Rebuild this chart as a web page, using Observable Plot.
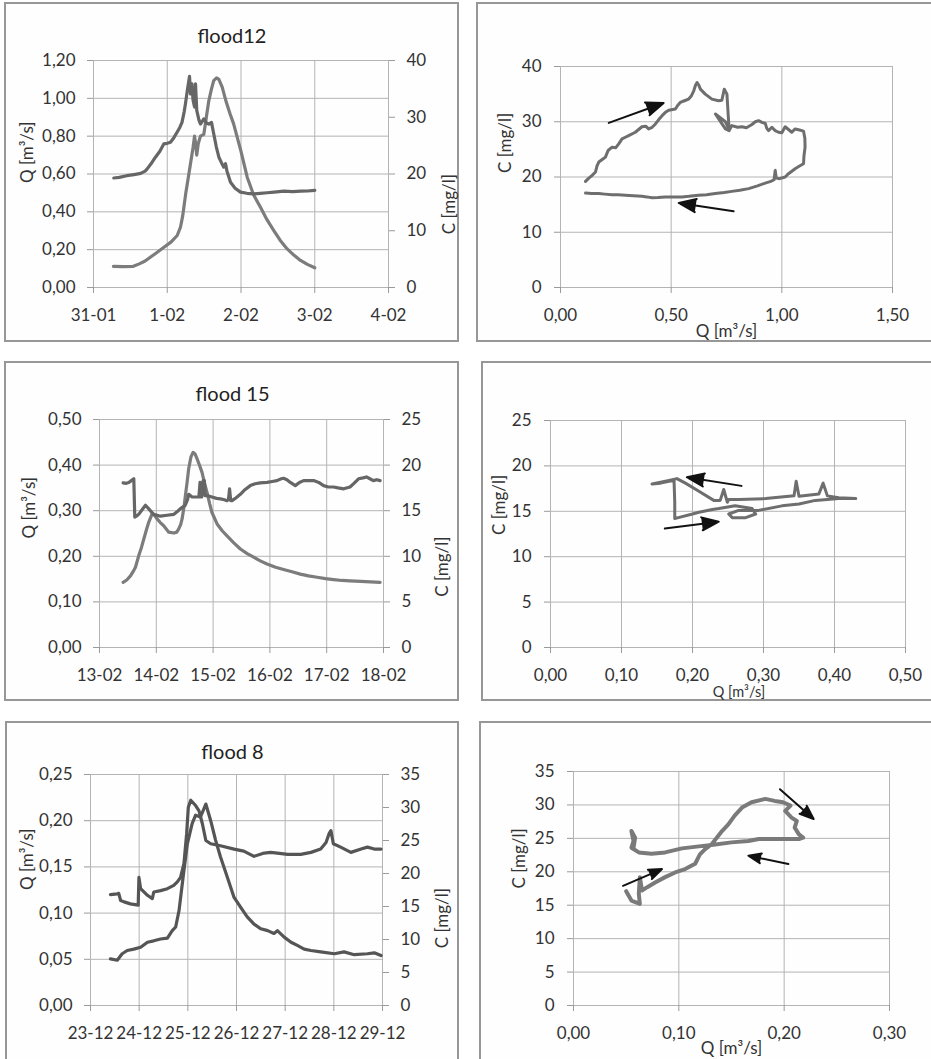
<!DOCTYPE html>
<html><head><meta charset="utf-8">
<script src="https://cdn.jsdelivr.net/npm/d3@7"></script>
<script src="https://cdn.jsdelivr.net/npm/@observablehq/plot@0.6"></script>
<style>
body{margin:0;background:#fff;}
#root{position:relative;width:931px;height:1059px;overflow:hidden;}
.frame{position:absolute;border:2px solid #979797;box-sizing:border-box;background:#fefefe;}
.cell{position:absolute;}
</style></head><body><div id="root"></div>
<script>
// ---------- flood 12 ----------
const f12Dates = ["31-01","1-02","2-02","3-02","4-02"];
const f12QTicks = [0,0.2,0.4,0.6,0.8,1.0,1.2];
const f12CTicks = [0,10,20,30,40];
const f12tQ = [0.27,0.40,0.54,0.62,0.70,0.77,0.86,0.955,1.05,1.135,1.18,1.21,1.25,1.285,1.315,1.35,1.37,1.385,1.40,1.42,1.45,1.496,1.53,1.564,1.60,1.63,1.668,1.70,1.745,1.80,1.85,1.90,2.0,2.084,2.17,2.264,2.35,2.445,2.53,2.626,2.72,2.807,2.90,3.0];
const f12Q  = [0.112,0.11,0.112,0.125,0.14,0.16,0.185,0.213,0.24,0.275,0.32,0.38,0.495,0.58,0.654,0.74,0.80,0.76,0.70,0.76,0.80,0.81,0.90,0.988,1.05,1.094,1.108,1.10,1.059,0.98,0.92,0.865,0.72,0.583,0.49,0.424,0.36,0.301,0.25,0.204,0.17,0.143,0.122,0.104];
const f12tC = [0.275,0.35,0.45,0.55,0.64,0.70,0.728,0.78,0.84,0.90,0.953,1.0,1.044,1.09,1.135,1.17,1.2,1.23,1.247,1.275,1.302,1.315,1.335,1.35,1.37,1.383,1.40,1.43,1.45,1.496,1.53,1.564,1.6,1.63,1.665,1.7,1.735,1.767,1.79,1.81,1.858,1.92,1.993,2.08,2.174,2.26,2.355,2.45,2.58,2.7,2.81,2.9,3.0];
const f12C  = [19.3,19.4,19.7,19.9,20.1,20.5,20.9,21.8,22.96,24.0,25.3,25.4,25.6,26.4,27.4,28.2,29.1,31.0,32.4,35.0,37.2,34.1,35.9,33.0,31.8,35.9,31.2,29.5,28.8,29.7,29.0,28.8,29.1,27.1,24.8,22.96,22.0,21.2,21.8,20.5,18.55,17.5,16.8,16.6,16.5,16.6,16.7,16.8,16.97,16.9,16.97,17.0,17.1];
// flood 12 hysteresis (C vs Q)
const f12LoopTicksQ = [0,0.5,1.0,1.5];
const f12LoopTicksC = [0,10,20,30,40];
const f12LoopQ = [0.113,0.128,0.143,0.158,0.165,0.173,0.19,0.203,0.215,0.233,0.25,0.263,0.278,0.293,0.308,0.338,0.368,0.385,0.398,0.414,0.429,0.444,0.459,0.474,0.489,0.519,0.53,0.541,0.56,0.579,0.59,0.602,0.61,0.617,0.625,0.632,0.654,0.684,0.714,0.729,0.74,0.752,0.758,0.762,0.745,0.70,0.72,0.745,0.762,0.774,0.80,0.82,0.84,0.865,0.88,0.895,0.91,0.925,0.932,0.94,0.955,0.97,0.985,1.0,1.015,1.03,1.045,1.06,1.08,1.098,1.104,1.105,1.10,1.098,1.08,1.06,1.03,1.015,0.99,0.975,0.97,0.965,0.95,0.925,0.89,0.85,0.81,0.774,0.74,0.699,0.66,0.624,0.58,0.549,0.5,0.474,0.44,0.414,0.39,0.368,0.33,0.293,0.26,0.233,0.2,0.173,0.14,0.113];
const f12LoopC = [19.2,19.8,20.3,20.9,22.0,22.7,23.2,23.6,24.8,25.4,25.3,26.0,26.9,27.2,27.5,28.1,29.1,29.2,28.7,29.0,29.6,30.4,31.1,31.7,32.1,32.3,33.0,33.5,33.8,34.1,34.6,35.6,36.6,37.1,36.6,35.9,35.0,34.1,33.8,33.9,35.9,35.0,31.0,28.6,30.0,31.4,30.2,28.7,28.4,29.3,29.0,29.1,28.9,29.5,30.0,30.2,29.9,29.7,28.8,28.4,29.0,28.4,28.1,28.0,29.1,28.6,28.1,28.7,28.5,28.3,27.0,25.4,23.8,22.4,22.0,21.5,20.6,20.0,19.7,19.8,21.2,19.5,19.2,18.9,18.4,17.9,17.6,17.4,17.2,17.0,16.8,16.7,16.5,16.4,16.4,16.4,16.3,16.25,16.4,16.5,16.6,16.7,16.8,16.8,16.9,17.0,17.0,17.1];
const f12ArrowQ1 = [0.218,0.782], f12ArrowC1 = [29.8,13.8], f12ArrowQ2 = [0.466,0.534], f12ArrowC2 = [33.4,15.3];

// ---------- flood 15 ----------
const f15Dates = ["13-02","14-02","15-02","16-02","17-02","18-02"];
const f15QTicks = [0,0.1,0.2,0.3,0.4,0.5];
const f15CTicks = [0,5,10,15,20,25];
const f15tQ = [0.416,0.48,0.545,0.60,0.633,0.69,0.74,0.78,0.83,0.868,0.926,0.97,1.014,1.07,1.13,1.22,1.31,1.36,1.395,1.43,1.454,1.49,1.512,1.54,1.57,1.61,1.647,1.68,1.717,1.76,1.805,1.85,1.893,1.94,1.98,2.07,2.16,2.245,2.36,2.48,2.6,2.714,2.83,2.95,3.1,3.24,3.39,3.535,3.68,3.83,3.98,4.12,4.27,4.41,4.6,4.77,4.94];
const f15Q  = [0.143,0.148,0.157,0.168,0.176,0.201,0.22,0.238,0.26,0.275,0.293,0.29,0.282,0.274,0.267,0.253,0.251,0.253,0.26,0.27,0.282,0.31,0.333,0.36,0.392,0.418,0.428,0.425,0.414,0.40,0.384,0.36,0.34,0.315,0.296,0.271,0.256,0.245,0.23,0.216,0.206,0.198,0.19,0.183,0.176,0.171,0.166,0.161,0.157,0.154,0.151,0.149,0.147,0.146,0.145,0.144,0.143];
const f15tC = [0.416,0.47,0.516,0.56,0.604,0.612,0.621,0.65,0.69,0.75,0.81,0.868,0.91,0.955,1.073,1.19,1.31,1.37,1.42,1.51,1.55,1.57,1.63,1.7,1.75,1.77,1.785,1.8,1.825,1.846,1.86,1.893,1.98,2.06,2.13,2.2,2.245,2.27,2.29,2.31,2.333,2.40,2.48,2.56,2.655,2.74,2.83,2.95,3.04,3.124,3.2,3.24,3.3,3.36,3.447,3.52,3.593,3.68,3.77,3.86,3.945,4.03,4.12,4.2,4.3,4.41,4.48,4.56,4.64,4.7,4.76,4.82,4.88,4.94];
const f15C  = [18.05,18.0,18.1,18.3,18.5,16.5,14.3,14.4,14.6,15.1,15.6,15.2,14.9,14.6,14.4,14.5,14.6,14.9,15.2,15.6,16.2,16.8,16.5,16.5,16.5,18.1,16.5,16.5,18.3,18.3,16.65,16.65,16.5,16.35,16.3,16.2,16.1,16.2,17.4,16.1,16.1,16.4,16.8,17.3,17.75,17.95,18.05,18.1,18.2,18.3,18.5,18.56,18.4,18.1,17.75,18.1,18.3,18.3,18.3,18.1,17.75,17.6,17.6,17.5,17.4,17.6,18.0,18.5,18.6,18.7,18.5,18.3,18.4,18.3];
const f15LoopTicksQ = [0,0.1,0.2,0.3,0.4,0.5];
const f15LoopTicksC = [0,5,10,15,20,25];
const f15LoopQ = [0.143,0.155,0.167,0.174,0.175,0.175,0.18,0.2,0.209,0.228,0.237,0.26,0.284,0.289,0.275,0.256,0.251,0.265,0.293,0.326,0.35,0.373,0.406,0.43,0.406,0.39,0.384,0.378,0.35,0.346,0.343,0.303,0.265,0.251,0.249,0.244,0.239,0.23,0.209,0.19,0.178,0.167,0.143];
const f15LoopC = [18.0,18.1,18.3,18.4,16.0,14.2,14.3,14.7,14.9,15.2,15.3,15.6,15.3,14.7,14.3,14.3,14.7,15.1,15.1,15.6,15.8,16.2,16.4,16.4,16.5,16.7,18.1,16.9,16.65,18.3,16.7,16.4,16.3,16.3,16.0,17.4,16.2,16.2,17.2,18.1,18.6,18.4,18.0];
const f15ArrowQ1 = [0.269,0.161], f15ArrowC1 = [17.8,13.1], f15ArrowQ2 = [0.192,0.237], f15ArrowC2 = [18.75,13.86];

// ---------- flood 8 ----------
const f8Dates = ["23-12","24-12","25-12","26-12","27-12","28-12","29-12"];
const f8QTicks = [0,0.05,0.10,0.15,0.20,0.25];
const f8CTicks = [0,5,10,15,20,25,30,35];
const f8tQ = [0.41,0.55,0.65,0.755,0.89,1.03,1.17,1.30,1.44,1.58,1.68,1.75,1.82,1.91,1.99,2.09,2.16,2.26,2.37,2.47,2.57,2.67,2.81,2.95,3.09,3.22,3.36,3.50,3.64,3.77,3.84,3.98,4.12,4.25,4.39,4.53,4.73,5.01,5.21,5.42,5.69,5.83,5.97];
const f8Q  = [0.0505,0.049,0.056,0.0595,0.061,0.063,0.0685,0.070,0.072,0.073,0.081,0.085,0.103,0.142,0.175,0.197,0.206,0.204,0.218,0.200,0.179,0.161,0.139,0.117,0.106,0.096,0.088,0.083,0.081,0.078,0.081,0.074,0.0685,0.065,0.061,0.0595,0.058,0.056,0.058,0.055,0.056,0.057,0.054];
const f8tC = [0.41,0.55,0.58,0.62,0.69,0.82,0.98,0.995,1.03,1.17,1.27,1.3,1.44,1.58,1.71,1.78,1.85,1.92,1.975,2.01,2.06,2.16,2.23,2.3,2.37,2.47,2.67,2.95,3.15,3.36,3.57,3.7,3.84,4.05,4.32,4.53,4.73,4.84,4.9,4.94,4.99,5.14,5.35,5.56,5.69,5.83,5.97];
const f8C  = [16.8,16.9,17.0,15.9,15.7,15.4,15.2,19.4,17.7,16.7,16.2,17.2,17.4,17.7,18.2,18.7,19.4,21.5,26.0,30.05,31.1,30.3,29.5,27.5,25.0,24.5,24.2,23.7,23.4,22.6,23.1,23.2,23.1,22.9,22.9,23.2,23.7,24.7,26.0,26.5,24.5,24.0,23.2,23.7,24.0,23.7,23.7];
const f8LoopTicksQ = [0,0.1,0.2,0.3];
const f8LoopTicksC = [0,5,10,15,20,25,30,35];
const f8LoopQ = [0.05,0.055,0.063,0.062,0.063,0.065,0.07,0.0775,0.087,0.0965,0.106,0.1155,0.12,0.125,0.131,0.136,0.141,0.147,0.153,0.16,0.169,0.182,0.191,0.199,0.206,0.201,0.207,0.212,0.21,0.214,0.218,0.214,0.198,0.176,0.166,0.15,0.131,0.119,0.103,0.087,0.074,0.062,0.055,0.057,0.055,0.0585,0.057];
const f8LoopC = [17.1,15.7,15.2,16.7,19.2,17.2,17.7,18.4,19.2,19.9,20.4,21.2,22.6,23.4,24.1,25.1,26.1,27.1,28.4,29.6,30.4,30.9,30.6,30.4,29.9,29.1,28.1,27.6,26.6,25.6,25.1,24.9,24.9,24.9,24.6,24.4,24.0,23.8,23.5,22.9,22.7,22.9,23.6,24.6,26.1,25.1,23.6];
const f8ArrowQ1 = [0.196,0.204,0.047], f8ArrowC1 = [32.35,21.15,17.9], f8ArrowQ2 = [0.228,0.166,0.084], f8ArrowC2 = [27.9,22.4,20.4];

// ---------- drawing ----------
const FONT = "Lato, 'Open Sans', sans-serif";
const GRID = "#b4b4b4", TICK = "#9a9a9a", TXT = "#333333";
const fmt2 = d => d.toFixed(2).replace(".", ",");
const root = document.getElementById("root");

function frame(l, t, w, h) {
  const d = document.createElement("div");
  d.className = "frame";
  d.style.cssText = `left:${l}px;top:${t}px;width:${w}px;height:${h}px`;
  root.append(d);
}
function place(svg, l, t) {
  const d = document.createElement("div");
  d.className = "cell";
  d.style.cssText = `left:${l}px;top:${t}px`;
  d.append(svg);
  root.append(d);
}
const baseStyle = {fontFamily: FONT, fontSize: "17px", color: TXT, background: "transparent", overflow: "visible"};

function timePanel(o) {
  const k = o.qMax / o.cMax;
  const xt = o.dates.map((_, i) => i);
  const qd = o.tQ.map((t, i) => ({t, v: o.Q[i]}));
  const cd = o.tC.map((t, i) => ({t, v: o.C[i] * k}));
  return Plot.plot({
    width: o.width, height: o.height,
    marginLeft: o.m[0], marginRight: o.m[1], marginTop: o.m[2], marginBottom: o.m[3],
    x: {type: "linear", domain: [0, xt.length - 1]},
    y: {type: "linear", domain: [0, o.qMax]},
    style: baseStyle,
    marks: [
      Plot.gridY(o.qTicks, {stroke: GRID, strokeOpacity: 1}),
      Plot.gridX(xt, {stroke: GRID, strokeOpacity: 1}),
      Plot.axisY(o.qTicks, {anchor: "left", tickSize: 6, tickPadding: 12, tickFormat: fmt2, stroke: TICK, fill: TXT, label: null}),
      Plot.axisY(o.cTicks.map(c => c * k), {anchor: "right", tickSize: 6, tickPadding: 12, tickFormat: d => String(Math.round(d / k)), stroke: TICK, fill: TXT, label: null}),
      Plot.axisX(xt, {anchor: "bottom", tickSize: 6, tickPadding: 15, tickFormat: i => o.dates[i], stroke: TICK, fill: TXT, label: null}),
      Plot.line(qd, {x: "t", y: "v", stroke: o.qColor, strokeWidth: 3.2}),
      Plot.line(cd, {x: "t", y: "v", stroke: o.cColor, strokeWidth: 3.2}),
      Plot.text([o.title], {text: d => d, frameAnchor: "top", lineAnchor: "bottom", dx: o.title_d[0], dy: o.title_d[1], fontSize: 20, fill: "#222"}),
      Plot.text(["Q [m³/s]"], {text: d => d, frameAnchor: "left", rotate: -90, lineAnchor: "top", dx: o.ql[0], dy: o.ql[1], fill: TXT}),
      Plot.text(["C [mg/l]"], {text: d => d, frameAnchor: "right", rotate: -90, lineAnchor: "top", dx: o.cl[0], dy: o.cl[1], fill: TXT})
    ]
  });
}

function loopPanel(o) {
  const d = o.Q.map((q, i) => ({q, c: o.C[i]}));
  const ar = o.aQ1.map((q, i) => ({q1: q, c1: o.aC1[i], q2: o.aQ2[i], c2: o.aC2[i]}));
  return Plot.plot({
    width: o.width, height: o.height,
    marginLeft: o.m[0], marginRight: o.m[1], marginTop: o.m[2], marginBottom: o.m[3],
    x: {type: "linear", domain: [0, o.qTicks[o.qTicks.length - 1]]},
    y: {type: "linear", domain: [0, o.cTicks[o.cTicks.length - 1]]},
    style: baseStyle,
    marks: [
      Plot.gridY(o.cTicks, {stroke: GRID, strokeOpacity: 1}),
      Plot.gridX(o.qTicks, {stroke: GRID, strokeOpacity: 1}),
      Plot.axisY(o.cTicks, {anchor: "left", tickSize: 6, tickPadding: 13, tickFormat: d => String(d), stroke: TICK, fill: TXT, label: null}),
      Plot.axisX(o.qTicks, {anchor: "bottom", tickSize: 6, tickPadding: 15, tickFormat: fmt2, stroke: TICK, fill: TXT, label: null}),
      Plot.line(d, {x: "q", y: "c", stroke: o.color, strokeWidth: o.sw}),
      Plot.arrow(ar, {x1: "q1", y1: "c1", x2: "q2", y2: "c2", stroke: "#111", fill: "#111", strokeWidth: 2, headLength: 14, headAngle: 42}),
      Plot.text(["C [mg/l]"], {text: d => d, frameAnchor: "left", rotate: -90, lineAnchor: "top", dx: o.cl[0], dy: o.cl[1], fill: TXT}),
      Plot.text(["Q [m³/s]"], {text: d => d, frameAnchor: "bottom", lineAnchor: "bottom", dx: o.ql[0], dy: o.ql[1], fill: TXT, fontSize: o.qlSize})
    ]
  });
}

frame(4, 2, 455, 340);
frame(476, 2, 470, 340);
frame(4, 361, 455, 340);
frame(481, 361, 470, 340);
frame(5, 721, 454, 360);
frame(479, 721, 470, 360);

place(timePanel({width: 465, height: 345, m: [93, 77, 60, 58], dates: f12Dates, qMax: 1.2, cMax: 40,
  qTicks: f12QTicks, cTicks: f12CTicks, tQ: f12tQ, Q: f12Q, tC: f12tC, C: f12C,
  qColor: "#7c7c7c", cColor: "#666666", title: "flood12", title_d: [-9, -18], ql: [-73, 9], cl: [54, 0]}), 0, 0);

place(loopPanel({width: 466, height: 345, m: [95, 39, 66, 58], qTicks: f12LoopTicksQ, cTicks: f12LoopTicksC,
  Q: f12LoopQ, C: f12LoopC, aQ1: f12ArrowQ1, aC1: f12ArrowC1, aQ2: f12ArrowQ2, aC2: f12ArrowC2,
  color: "#6e6e6e", sw: 3, cl: [-62, -4], ql: [0, 49], qlSize: 17}), 465, 0);

place(timePanel({width: 465, height: 355, m: [99, 82, 74, 53], dates: f15Dates, qMax: 0.5, cMax: 25,
  qTicks: f15QTicks, cTicks: f15CTicks, tQ: f15tQ, Q: f15Q, tC: f15tC, C: f15C,
  qColor: "#7c7c7c", cColor: "#666666", title: "flood 15", title_d: [-9, -19], ql: [-77, 5], cl: [52, 3]}), 0, 345);

place(loopPanel({width: 466, height: 355, m: [85, 26, 75, 53], qTicks: f15LoopTicksQ, cTicks: f15LoopTicksC,
  Q: f15LoopQ, C: f15LoopC, aQ1: f15ArrowQ1, aC1: f15ArrowC1, aQ2: f15ArrowQ2, aC2: f15ArrowC2,
  color: "#6e6e6e", sw: 3, cl: [-58, 1], ql: [11, 49], qlSize: 14.5}), 465, 345);

place(timePanel({width: 465, height: 359, m: [90, 83, 74, 54], dates: f8Dates, qMax: 0.25, cMax: 35,
  qTicks: f8QTicks, cTicks: f8CTicks, tQ: f8tQ, Q: f8Q, tC: f8tC, C: f8C,
  qColor: "#555555", cColor: "#555555", title: "flood 8", title_d: [-4, -16], ql: [-70, 0], cl: [53, -2]}), 0, 700);

place(loopPanel({width: 466, height: 359, m: [108, 42, 71, 54], qTicks: f8LoopTicksQ, cTicks: f8LoopTicksC,
  Q: f8LoopQ, C: f8LoopC, aQ1: f8ArrowQ1, aC1: f8ArrowC1, aQ2: f8ArrowQ2, aC2: f8ArrowC2,
  color: "#7a7a7a", sw: 4, cl: [-61, 0], ql: [0, 48], qlSize: 17}), 465, 700);
</script>
</body></html>
